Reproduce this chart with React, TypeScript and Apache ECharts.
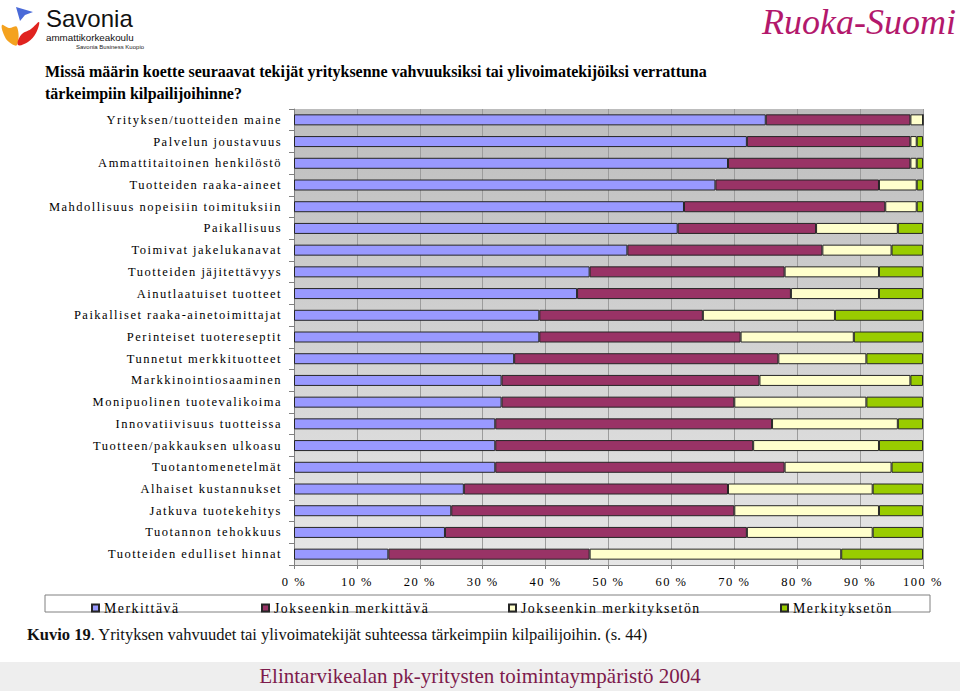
import React, { useEffect, useRef } from 'react';
import * as echarts from 'echarts';

const categories = [
  'Yrityksen/tuotteiden maine',
  'Palvelun joustavuus',
  'Ammattitaitoinen henkilöstö',
  'Tuotteiden raaka-aineet',
  'Mahdollisuus nopeisiin toimituksiin',
  'Paikallisuus',
  'Toimivat jakelukanavat',
  'Tuotteiden jäjitettävyys',
  'Ainutlaatuiset tuotteet',
  'Paikalliset raaka-ainetoimittajat',
  'Perinteiset tuotereseptit',
  'Tunnetut merkkituotteet',
  'Markkinointiosaaminen',
  'Monipuolinen tuotevalikoima',
  'Innovatiivisuus tuotteissa',
  'Tuotteen/pakkauksen ulkoasu',
  'Tuotantomenetelmät',
  'Alhaiset kustannukset',
  'Jatkuva tuotekehitys',
  'Tuotannon tehokkuus',
  'Tuotteiden edulliset hinnat',
];

const merkittava = [75, 72, 69, 67, 62, 61, 53, 47, 45, 39, 39, 35, 33, 33, 32, 32, 32, 27, 25, 24, 15];
const jokseenkinMerkittava = [23, 26, 29, 26, 32, 22, 31, 31, 34, 26, 32, 42, 41, 37, 44, 41, 46, 42, 45, 48, 32];
const jokseenkinMerkitykseton = [2, 1, 1, 6, 5, 13, 11, 15, 14, 21, 18, 14, 24, 21, 20, 20, 17, 23, 23, 20, 40];
const merkitykseton = [0, 1, 1, 1, 1, 4, 5, 7, 7, 14, 11, 9, 2, 9, 4, 7, 5, 8, 7, 8, 13];

const seriesNames = ['Merkittävä', 'Jokseenkin merkittävä', 'Jokseenkin merkityksetön', 'Merkityksetön'];
const seriesColors = ['#9999ff', '#993366', '#ffffcc', '#99cc00'];
const tickLabels = ['0 %', '10 %', '20 %', '30 %', '40 %', '50 %', '60 %', '70 %', '80 %', '90 %', '100 %'];

const titleText =
  'Missä määrin koette seuraavat tekijät yrityksenne vahvuuksiksi tai ylivoimatekijöiksi verrattuna\ntärkeimpiin kilpailijoihinne?';
const captionLead = 'Kuvio 19';
const captionRest = '. Yrityksen vahvuudet tai ylivoimatekijät suhteessa tärkeimpiin kilpailijoihin. (s. 44)';
const footerText = 'Elintarvikealan pk-yritysten toimintaympäristö 2004';

const SERIF = "'Liberation Serif', 'Times New Roman', serif";
const SANS = "'Liberation Sans', Arial, sans-serif";

function measure(text: string, font: string): number {
  const c = document.createElement('canvas').getContext('2d');
  if (!c) return text.length * 8;
  c.font = font;
  return c.measureText(text).width;
}

export default function App() {
  const ref = useRef<HTMLDivElement>(null);

  useEffect(() => {
    const el = ref.current;
    if (!el) return;
    const chart = echarts.init(el, undefined, { renderer: 'svg' });
    const dataSets = [merkittava, jokseenkinMerkittava, jokseenkinMerkitykseton, merkitykseton];

    const legendLefts = [86, 256, 503, 775];
    const captionSize = 16.5;
    const leadWidth = measure(captionLead, `bold ${captionSize}px ${SERIF}`);

    const option: any = {
      animation: false,
      backgroundColor: '#ffffff',
      grid: {
        left: 294,
        right: 37,
        top: 109,
        bottom: 126,
        show: true,
        borderWidth: 0,
        backgroundColor: new echarts.graphic.LinearGradient(0, 0, 0, 1, [
          { offset: 0, color: '#bdbdbd' },
          { offset: 1, color: '#e6e6e6' },
        ]),
      },
      legend: seriesNames.map((n, i) => ({
        data: [n],
        left: legendLefts[i],
        top: 596,
        icon: 'rect',
        itemWidth: 7,
        itemHeight: 7,
        itemGap: 5,
        textStyle: { fontFamily: SERIF, fontSize: 13.8, color: '#000' },
        selectedMode: false,
      })),
      xAxis: {
        type: 'value',
        min: 0,
        max: 100,
        interval: 10,
        axisLine: { show: true, lineStyle: { color: '#808080' } },
        axisTick: { show: true, length: 4, lineStyle: { color: '#808080' } },
        splitLine: { show: true, lineStyle: { color: '#9c9c9c', width: 1 } },
        axisLabel: {
          formatter: (v: number) => tickLabels[Math.round(v / 10)],
          fontFamily: SERIF,
          fontSize: 12.5,
          color: '#000',
          margin: 10,
        },
      },
      yAxis: {
        type: 'category',
        data: categories,
        inverse: true,
        axisLine: { show: true, lineStyle: { color: '#808080' } },
        axisTick: { show: true, length: 5, lineStyle: { color: '#808080' } },
        axisLabel: { fontFamily: SERIF, fontSize: 12.5, color: '#000', margin: 12 },
      },
      series: seriesNames.map((n, i) => ({
        name: n,
        type: 'bar',
        stack: 'total',
        barWidth: 11,
        data: dataSets[i],
        itemStyle: { color: seriesColors[i], borderColor: '#262626', borderWidth: 1 },
      })),
      graphic: [
        // Savonia logo
        { type: 'polygon', shape: { points: [[16, 7], [33, 12], [25, 15], [20, 21]] }, style: { fill: '#4a6ad8' } },
        {
          type: 'polygon',
          shape: { points: [[2, 25], [9, 28], [17, 27], [17, 45], [9, 42], [4, 35]], smooth: 0.4 },
          style: { fill: '#f4a21f' },
        },
        {
          type: 'polygon',
          shape: { points: [[39, 22], [31, 29], [21, 35], [18, 45], [28, 42], [36, 33]], smooth: 0.4 },
          style: { fill: '#e0231f' },
        },
        {
          type: 'text',
          style: {
            x: 46, y: 18, text: 'Savonia', fontFamily: SANS, fontSize: 24, verticalAlign: 'middle', fill: '#111',
          },
        },
        {
          type: 'text',
          style: {
            x: 46, y: 37, text: 'ammattikorkeakoulu', fontFamily: SANS, fontSize: 9.8, verticalAlign: 'middle', fill: '#111',
          },
        },
        {
          type: 'text',
          style: {
            x: 76, y: 47, text: 'Savonia Business Kuopio', fontFamily: SANS, fontSize: 6, verticalAlign: 'middle', fill: '#222',
          },
        },
        // Ruoka-Suomi
        {
          type: 'text',
          right: 4,
          top: 4,
          style: { text: 'Ruoka-Suomi', fontFamily: SERIF, fontStyle: 'italic', fontSize: 36, fill: '#b3186c' },
        },
        // Title
        {
          type: 'text',
          left: 45,
          top: 60,
          style: { text: titleText, fontFamily: SERIF, fontWeight: 'bold', fontSize: 16, fill: '#000', lineHeight: 22 },
        },
        // Legend frame
        {
          type: 'rect',
          z: -1,
          shape: { x: 45, y: 595, width: 885, height: 17 },
          style: { fill: '#ffffff', stroke: '#808080', lineWidth: 1 },
        },
        // Caption
        {
          type: 'text',
          style: {
            x: 27, y: 634, text: captionLead, fontFamily: SERIF, fontWeight: 'bold', fontSize: captionSize,
            verticalAlign: 'middle', fill: '#111',
          },
        },
        {
          type: 'text',
          style: {
            x: 27 + leadWidth, y: 634, text: captionRest, fontFamily: SERIF, fontSize: captionSize,
            verticalAlign: 'middle', fill: '#111',
          },
        },
        // Footer band
        { type: 'rect', z: -1, shape: { x: 0, y: 662, width: 960, height: 29 }, style: { fill: '#eeeeee' } },
        {
          type: 'text',
          left: 'center',
          top: 665,
          style: { text: footerText, fontFamily: SERIF, fontSize: 21, fill: '#7d1a4b' },
        },
      ],
    };

    chart.setOption(option);

    const spaced = new Set<string>([...categories, ...seriesNames, ...tickLabels]);
    const apply = () => {
      el.querySelectorAll('text').forEach((t) => {
        const s = t.textContent || '';
        if (spaced.has(s)) t.setAttribute('letter-spacing', '1.5');
      });
    };
    chart.on('finished', apply);
    apply();
    const timer = setTimeout(apply, 50);

    return () => {
      clearTimeout(timer);
      chart.dispose();
    };
  }, []);

  return (
    <div
      ref={ref}
      style={{ position: 'fixed', left: 0, top: 0, width: 960, height: 691, background: '#fff' }}
    />
  );
}
